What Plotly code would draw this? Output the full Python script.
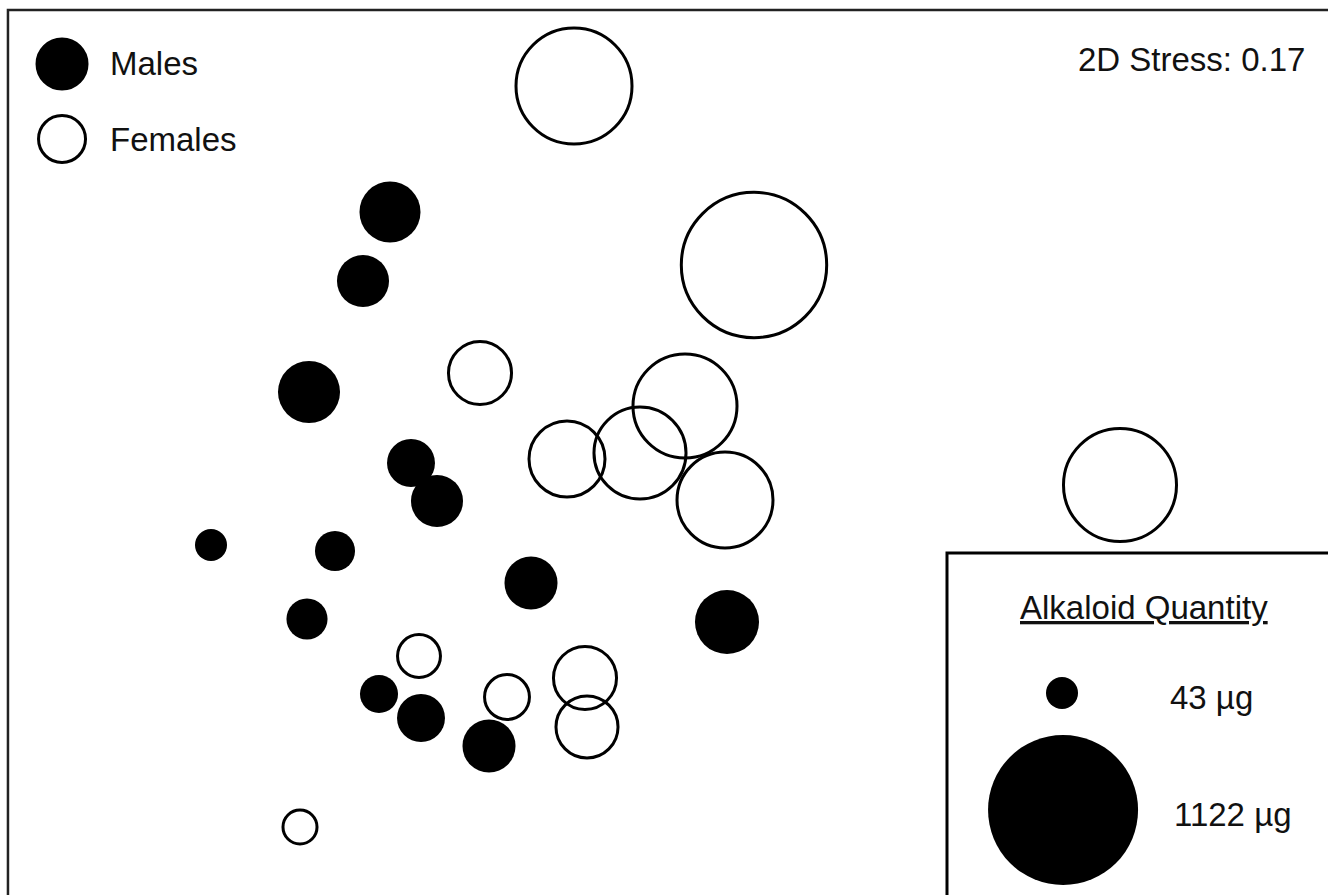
import plotly.graph_objects as go

# NMDS ordination scores (arbitrary units) and alkaloid quantity (µg) per frog
male_x = [-1.000, -1.108, -1.324, -0.916, -0.812, -1.716, -1.220, -1.332, -1.044, -0.876, -0.604, -0.436, 0.348]
male_y = [0.952, 0.676, 0.232, -0.052, -0.204, -0.380, -0.404, -0.676, -0.976, -1.072, -1.184, -0.532, -0.688]
male_q = [168, 120, 174, 101, 120, 43, 69, 73, 62, 101, 125, 125, 186]

female_x = [-0.264, 0.456, -0.640, 0.180, -0.292, 0.000, 0.340, 1.920, -0.884, -0.532, -0.220, -0.212, -1.360]
female_y = [1.456, 0.740, 0.308, 0.176, -0.036, -0.012, -0.200, -0.140, -0.824, -0.988, -0.912, -1.108, -1.508]
female_q = [652, 1050, 180, 518, 267, 400, 437, 617, 80, 88, 180, 174, 49]

# size key
key_q = [43, 1122]
key_labels = ["43 µg", "1122 µg"]
stress_label = "2D Stress: 0.17"
key_title = "Alkaloid Quantity"
group_names = ["Males", "Females"]

W, H = 1328, 895
FONT = "Liberation Sans, Arial, sans-serif"
OPEN_LW = 3


def diameter(q):
    # bubble diameter in px grows with quantity (close to area scaling)
    p = 0.4737
    return 32.0 * (q / 43.0) ** p


fig = go.Figure()

fig.add_trace(go.Scatter(
    x=female_x, y=female_y, mode="markers", name=group_names[1],
    marker=dict(symbol="circle-open", color="black", opacity=1,
                size=[diameter(q) for q in female_q],
                line=dict(width=OPEN_LW, color="black")),
    hoverinfo="skip", showlegend=False,
))
fig.add_trace(go.Scatter(
    x=male_x, y=male_y, mode="markers", name=group_names[0],
    marker=dict(symbol="circle", color="black", opacity=1,
                size=[diameter(q) for q in male_q],
                line=dict(width=0)),
    hoverinfo="skip", showlegend=False,
))

# size key bubbles on an overlay axis spanning the figure
fig.add_trace(go.Scatter(
    x=[0.7997, 0.8005], y=[0.2257, 0.0950], mode="markers",
    xaxis="x2", yaxis="y2",
    marker=dict(symbol="circle", color="black", opacity=1,
                size=[diameter(q) for q in key_q], line=dict(width=0)),
    hoverinfo="skip", showlegend=False,
))

# group key symbols
fig.add_trace(go.Scatter(
    x=[0.0467, 0.0467], y=[0.9285, 0.8447], mode="markers",
    xaxis="x2", yaxis="y2",
    marker=dict(symbol=["circle", "circle-open"], color="black", opacity=1,
                size=[50, 47], line=dict(width=OPEN_LW, color="black")),
    hoverinfo="skip", showlegend=False,
))

shapes = [
    # outer frame (only top and left edges fall inside the figure)
    dict(type="rect", xref="paper", yref="paper", x0=0.0060, x1=1.05,
         y0=-0.05, y1=0.9888, line=dict(color="#222", width=2.5),
         fillcolor="rgba(0,0,0,0)", layer="below"),
    # size key box
    dict(type="rect", xref="paper", yref="paper", x0=0.7131, x1=1.05,
         y0=-0.05, y1=0.3821, line=dict(color="black", width=3),
         fillcolor="white", layer="below"),
]

annotations = [
    dict(text=group_names[0], x=0.0813, y=0.9285, xanchor="left", yanchor="middle"),
    dict(text=group_names[1], x=0.0813, y=0.8436, xanchor="left", yanchor="middle"),
    dict(text=stress_label, x=0.9842, y=0.9330, xanchor="right", yanchor="middle"),
    dict(text="<u>" + key_title + "</u>", x=0.8614, y=0.3207, xanchor="center", yanchor="middle"),
    dict(text=key_labels[0], x=0.8795, y=0.2212, xanchor="left", yanchor="middle"),
    dict(text=key_labels[1], x=0.8825, y=0.0894, xanchor="left", yanchor="middle"),
]
for a in annotations:
    a.update(xref="paper", yref="paper", showarrow=False,
             font=dict(family=FONT, size=33, color="#111"))

ax = dict(visible=False, showgrid=False, zeroline=False, fixedrange=True)
fig.update_layout(
    width=W, height=H,
    margin=dict(l=0, r=0, t=0, b=0),
    paper_bgcolor="white", plot_bgcolor="white",
    xaxis=dict(ax, range=[-2.56, 2.752]),
    yaxis=dict(ax, range=[-1.78, 1.80]),
    xaxis2=dict(ax, range=[0, 1], overlaying="x", anchor="y2"),
    yaxis2=dict(ax, range=[0, 1], overlaying="y", anchor="x2"),
    shapes=shapes,
    annotations=annotations,
    showlegend=False,
)

fig.write_html("out.html", config={"displayModeBar": False})
